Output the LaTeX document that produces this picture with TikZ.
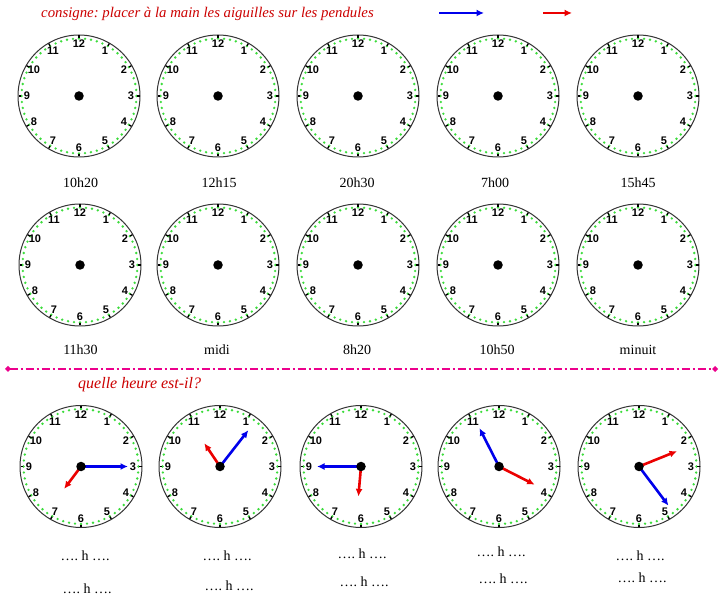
\documentclass[tikz,border=0pt]{standalone}
\usepackage{fontspec}
\setmainfont{Liberation Serif}
\newfontfamily\chiffres{Liberation Sans}
\usepackage{xcolor}
\usepackage{tikz}
\usetikzlibrary{arrows.meta, positioning}

\definecolor{rougeconsigne}{RGB}{204,0,0}
\definecolor{vertpoint}{RGB}{60,220,60}
\definecolor{bleuaig}{RGB}{0,0,235}
\definecolor{rougeaig}{RGB}{235,0,0}
\frenchspacing

\begin{document}
\begin{tikzpicture}[x=1pt, y=1pt,
            cadran/.style={draw=black!80, line width=1pt, fill=white},
            chiffre/.style={font=\chiffres\bfseries\fontsize{11}{11}\selectfont, inner sep=0pt},
            axe/.style={circle, fill=black, inner sep=0pt, minimum size=9.5pt},
            tic/.style={line width=1.4pt, black},
            heure_label/.style={font=\fontsize{14}{16}\selectfont, inner sep=0pt, anchor=base},
            consigne/.style={font=\itshape\fontsize{14.8}{16}\selectfont, text=rougeconsigne,
            inner sep=0pt, anchor=base west},
            aig_min/.style={-{Latex[length=7.5pt,width=7pt]}, line width=2.6pt, bleuaig},
            aig_h/.style={-{Latex[length=7.5pt,width=7pt]}, line width=2.6pt, rougeaig},
            separ/.style={{Turned Square[length=6pt,width=6pt]}-{Turned Square[length=6pt,width=6pt]},
            magenta, line width=2pt, dash pattern=on 8pt off 3pt on 2pt off 3pt}
        ]

            \fill[white] (0,0) rectangle (728,600);
            \useasboundingbox (0,0) rectangle (728,600);

            % Consigne + legend arrows
            \node[consigne] (consigne) at (41,582.7) {consigne: placer à la main les aiguilles sur les pendules};
            \coordinate (leg_b1) at (439,587);
            \coordinate (leg_b2) at (484,587);
            \coordinate (leg_r1) at (543,587);
            \coordinate (leg_r2) at (572,587);
            \draw[aig_min] (leg_b1) -- (leg_b2);
            \draw[aig_h] (leg_r1) -- (leg_r2);

            % Clock faces
            \foreach \n/\x/\y in {a1/79/504, a2/218/504, a3/358/504, a4/498/504, a5/638/504,
                                  c1/80/335, c2/218/335, c3/358/335, c4/498/335, c5/638/335,
                                  b1/81/133.5, b2/220/133.5, b3/361/133.5, b4/499/133.5, b5/639/133.5} {
                \coordinate (\n) at (\x,\y);
                \draw[cadran] (\n) circle (61);
                \foreach \m in {0,...,59} {
                    \fill[vertpoint] ([shift={(\m*6:57.5)}]\n) circle (1.3);
                }
                \foreach \h in {1,...,12} {
                    \draw[tic] ([shift={(\h*30:58)}]\n) -- ([shift={(\h*30:60.5)}]\n);
                    \node[chiffre] (\n-\h) at ([shift={(90-\h*30:52)}]\n) {\h};
                }
            }

            % Labels under the clocks
            \foreach \n/\x/\t in {a1/80.5/10h20, a2/219/12h15, a3/357/20h30, a4/495/7h00, a5/638/15h45} {
                \node[heure_label] (\n-lab) at (\x,412.7) {\t};
            }
            \foreach \n/\x/\t in {c1/80.5/11h30, c2/217/midi, c3/357/8h20, c4/497/10h50, c5/638/minuit} {
                \node[heure_label] (\n-lab) at (\x,245.5) {\t};
            }

            % Separator
            \coordinate (sep_g) at (5,231);
            \coordinate (sep_d) at (718,231);
            \draw[separ] (sep_g) -- (sep_d);
            \node[consigne, font=\itshape\fontsize{16}{18}\selectfont] (question) at (78,211) {quelle heure est-il?};

            % Hands
            \foreach \n/\am/\lm/\ah/\lh in {b1/0/47/233/28, b2/52/46/124/28, b3/180/44/265/30,
                                            b4/117/43/-27/40, b5/-53/49/22/41} {
                \coordinate (\n-min) at ([shift={(\am:\lm)}]\n);
                \coordinate (\n-h) at ([shift={(\ah:\lh)}]\n);
                \draw[aig_min] (\n) -- (\n-min);
                \draw[aig_h] (\n) -- (\n-h);
            }

            % Centre dots
            \foreach \n in {a1,a2,a3,a4,a5,c1,c2,c3,c4,c5,b1,b2,b3,b4,b5} {
                \node[axe] (\n-axe) at (\n) {};
            }

            % Answer lines
            \foreach \n/\x/\ya/\yb in {b1/85/39.3/7, b2/227/40/10, b3/362/42/14, b4/501/44/17, b5/640/40/18} {
                \node[heure_label] (\n-rep1) at (\x,\ya) {…. h ….};
                \node[heure_label] (\n-rep2) at (\x+2,\yb) {…. h ….};
            }

        \end{tikzpicture}
\end{document}
